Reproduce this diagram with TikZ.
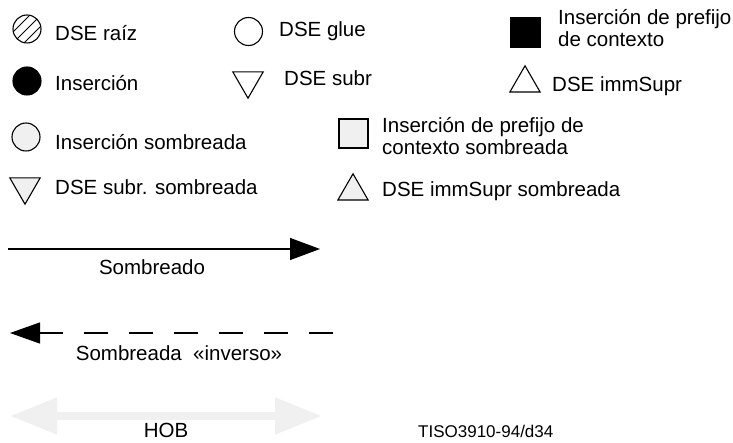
\documentclass[tikz,border=0pt]{standalone}
\usepackage{fontspec}
\setmainfont{Liberation Sans}
\usetikzlibrary{arrows.meta,shapes.geometric}
\definecolor{ink}{HTML}{000000}
\definecolor{shd}{HTML}{F0F0F0}
\definecolor{hob}{HTML}{F0F0F0}
\tikzset{
  sym/.style={draw=ink,line width=1.1pt,inner sep=0pt,outer sep=0pt},
  circ/.style={sym,circle,minimum size=28pt},
  sq/.style={sym,rectangle,minimum size=29pt},
  triu/.style={sym,regular polygon,regular polygon sides=3,minimum size=35pt},
  trid/.style={triu,shape border rotate=180},
  hatch/.style={circ,path picture={\foreach \d in {-5.5,0,5.5}{\draw[ink,line width=0.9pt] ([shift={(\d pt,-\d pt)}]path picture bounding box.south west) -- ([shift={(\d pt,-\d pt)}]path picture bounding box.north east);}}},
  lab/.style={anchor=base west,inner sep=0pt,font=\fontsize{20.5}{22}\selectfont,text=ink},
  labc/.style={lab,anchor=base},
  lab2/.style={lab,align=left},
  fwd/.style={-{Triangle[length=30pt,width=22pt]},line width=1.2pt,ink},
  bwd/.style={-{Triangle[length=30pt,width=21pt]},line width=1.2pt,ink,dash pattern=on 24pt off 21pt},
  hobarr/.style={{Triangle[length=47pt,width=35pt]}-{Triangle[length=47pt,width=35pt]},line width=8pt,hob}
}

\begin{document}
\begin{tikzpicture}[x=1pt,y=-1pt]
\useasboundingbox (0,0) rectangle (733,443);
% ===================== symbols, first rows =====================
\node[hatch] (raiz) at (27,29) {};
\node[lab] (lraiz) at (55,41) {DSE raíz};
\node[circ] (glue) at (248.5,31.5) {};
\node[lab] (lglue) at (279,37) {DSE glue};
\node[sq,fill=ink] (pctx) at (525.5,32.5) {};
\node[lab2] (lpctx) at (558,47) {Inserción de prefijo\\de contexto};
\node[circ,fill=ink] (ins) at (27,81) {};
\node[lab] (lins) at (55,91) {Inserción};
\node[trid] (subr) at (248,80.7) {};
\node[lab] (lsubr) at (284,86) {DSE subr};
\node[triu] (imm) at (525,83.3) {};
\node[lab] (limm) at (552,92) {DSE immSupr};
% ===================== shaded symbols =====================
\node[circ,fill=shd] (insS) at (26,137) {};
\node[lab] (linsS) at (55,150) {Inserción sombreada};
\node[sq,fill=shd] (pctxS) at (353.5,133.5) {};
\node[lab2] (lpctxS) at (382,155) {Inserción de prefijo de\\contexto sombreada};
\node[trid,fill=shd] (subrS) at (25,186.7) {};
\node[lab] (lsubrS) at (55,195) {DSE subr. sombreada};
\node[triu,fill=shd] (immS) at (353,191.3) {};
\node[lab] (limmS) at (382,197) {DSE immSupr sombreada};
% ===================== arrows =====================
\coordinate (sa) at (8,249);\coordinate (sb) at (320,249);
\draw[fwd] (sa) -- (sb);
\node[labc] (lsomb) at (152,275) {Sombreado};
\coordinate (ia) at (333,333);\coordinate (ib) at (10,333);
\draw[bwd] (ia) -- (ib);
\node[labc] (linv) at (179,360) {Sombreada\ \ «inverso»};
\coordinate (ha) at (10,416);\coordinate (hb) at (322,416);
\draw[hobarr] (ha) -- (hb);
\node[labc] (lhob) at (166,437) {HOB};
\node[lab,font=\fontsize{17}{19}\selectfont] (ref) at (418,437) {TISO3910-94/d34};
\end{tikzpicture}
\end{document}
